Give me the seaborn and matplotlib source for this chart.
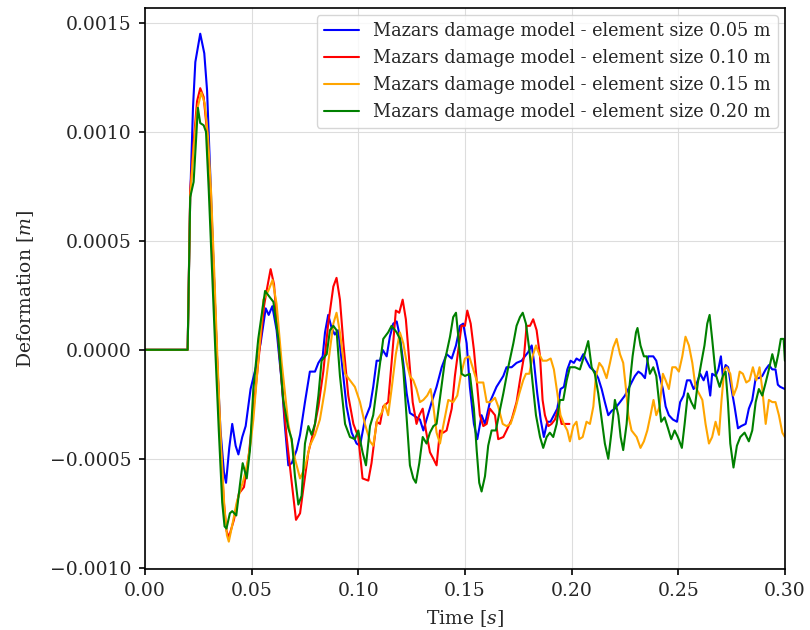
import seaborn as sns
import matplotlib.pyplot as plt
import pandas as pd

labels = ['Mazars damage model - element size 0.05 m',
          'Mazars damage model - element size 0.10 m',
          'Mazars damage model - element size 0.15 m',
          'Mazars damage model - element size 0.20 m']
colors = ['blue', 'red', 'orange', 'green']

# (time [s], deformation [m])
size_005 = [
    (0.0, 0), (0.0200, 0), (0.0212, 0.00070), (0.0225, 0.00111), (0.0236, 0.00132), (0.0259, 0.00145),
    (0.0278, 0.00136), (0.0291, 0.00119), (0.0307, 0.00078), (0.0322, 0.00037), (0.0338, -0.00004),
    (0.0354, -0.00037), (0.0370, -0.00056), (0.0380, -0.00061), (0.0395, -0.00045), (0.0409, -0.00034),
    (0.0425, -0.00044), (0.0438, -0.00048), (0.0456, -0.00040), (0.0472, -0.00035), (0.0495, -0.00018),
    (0.0520, -0.00008), (0.0542, 0.00003), (0.0566, 0.00019), (0.0580, 0.00016), (0.0597, 0.00020),
    (0.0617, 0.00009), (0.0641, -0.00015), (0.0656, -0.00035), (0.0672, -0.00053), (0.0688, -0.00052),
    (0.0711, -0.00046), (0.0727, -0.00039), (0.0750, -0.00024), (0.0773, -0.00010), (0.0797, -0.00010),
    (0.0813, -0.00006), (0.0833, -0.00003), (0.0844, 0.00008), (0.0859, 0.00016), (0.0875, 0.00010),
    (0.0890, 0.00007), (0.0906, 0.00009), (0.0922, -0.00005), (0.0945, -0.00026), (0.0969, -0.00038),
    (0.0992, -0.00043), (0.1008, -0.00044), (0.1031, -0.00032), (0.1055, -0.00026), (0.1070, -0.00017),
    (0.1086, -0.00005), (0.1102, -0.00005), (0.1114, 0.00000), (0.1133, -0.00003), (0.1148, 0.00006),
    (0.1164, 0.00012), (0.1180, 0.00013), (0.1195, 0.00006), (0.1211, -0.00006), (0.1227, -0.00020),
    (0.1242, -0.00029), (0.1258, -0.00030), (0.1273, -0.00031), (0.1289, -0.00032), (0.1305, -0.00037),
    (0.1320, -0.00032), (0.1344, -0.00024), (0.1367, -0.00017), (0.1391, -0.00008), (0.1414, -0.00002),
    (0.1438, -0.00004), (0.1458, 0.00002), (0.1477, 0.00011), (0.1492, 0.00012), (0.1508, 0.00003),
    (0.1523, -0.00017), (0.1542, -0.00034), (0.1558, -0.00041), (0.1578, -0.00030), (0.1594, -0.00034),
    (0.1617, -0.00024), (0.1648, -0.00017), (0.1680, -0.00012), (0.1695, -0.00008), (0.1719, -0.00008),
    (0.1742, -0.00006), (0.1766, -0.00005), (0.1781, -0.00003), (0.1797, -0.00001), (0.1813, 0.00002),
    (0.1823, -0.00005), (0.1839, -0.00020), (0.1855, -0.00032), (0.1870, -0.00040), (0.1886, -0.00033),
    (0.1901, -0.00033), (0.1917, -0.00030), (0.1933, -0.00027), (0.1948, -0.00018), (0.1964, -0.00017),
    (0.1980, -0.00009), (0.1995, -0.00005), (0.2011, -0.00006), (0.2023, -0.00004), (0.2039, -0.00005),
    (0.2055, -0.00002), (0.2070, -0.00005), (0.2086, -0.00008), (0.2109, -0.00010), (0.2125, -0.00013),
    (0.2141, -0.00018), (0.2156, -0.00024), (0.2172, -0.00030), (0.2188, -0.00028), (0.2203, -0.00027),
    (0.2227, -0.00024), (0.2250, -0.00021), (0.2266, -0.00018), (0.2281, -0.00015), (0.2297, -0.00012),
    (0.2313, -0.00010), (0.2328, -0.00011), (0.2344, -0.00013), (0.2359, -0.00003), (0.2383, -0.00003),
    (0.2397, -0.00005), (0.2413, -0.00012), (0.2428, -0.00018), (0.2441, -0.00026), (0.2456, -0.00030),
    (0.2475, -0.00032), (0.2494, -0.00033), (0.2509, -0.00024), (0.2525, -0.00021), (0.2541, -0.00014),
    (0.2556, -0.00014), (0.2572, -0.00018), (0.2588, -0.00015), (0.2603, -0.00011), (0.2619, -0.00014),
    (0.2634, -0.00010), (0.2650, -0.00021), (0.2659, -0.00011), (0.2675, -0.00012), (0.2688, -0.00009),
    (0.2700, -0.00003), (0.2709, -0.00012), (0.2722, -0.00007), (0.2734, -0.00008), (0.2748, -0.00017),
    (0.2764, -0.00026), (0.2780, -0.00036), (0.2795, -0.00035), (0.2816, -0.00034), (0.2831, -0.00027),
    (0.2847, -0.00023), (0.2863, -0.00013), (0.2878, -0.00013), (0.2894, -0.00012), (0.2910, -0.00009),
    (0.2925, -0.00007), (0.2941, -0.00009), (0.2956, -0.00009), (0.2967, -0.00016), (0.2978, -0.00017),
    (0.3000, -0.00018)]

size_010 = [
    (0.0, 0), (0.0200, 0), (0.0212, 0.00073), (0.0228, 0.00095), (0.0244, 0.00114), (0.0259, 0.00120),
    (0.0275, 0.00116), (0.0291, 0.00100), (0.0307, 0.00073), (0.0322, 0.00037), (0.0338, -0.00004),
    (0.0354, -0.00042), (0.0370, -0.00070), (0.0382, -0.00083), (0.0393, -0.00086), (0.0417, -0.00078),
    (0.0440, -0.00066), (0.0464, -0.00063), (0.0487, -0.00048), (0.0511, -0.00025), (0.0535, -0.00002),
    (0.0558, 0.00020), (0.0570, 0.00027), (0.0589, 0.00037), (0.0605, 0.00030), (0.0617, 0.00015),
    (0.0641, -0.00015), (0.0664, -0.00040), (0.0688, -0.00061), (0.0708, -0.00078), (0.0727, -0.00075),
    (0.0742, -0.00064), (0.0766, -0.00047), (0.0789, -0.00038), (0.0813, -0.00026), (0.0836, -0.00010),
    (0.0859, 0.00012), (0.0883, 0.00029), (0.0898, 0.00033), (0.0914, 0.00023), (0.0930, 0.00003),
    (0.0953, -0.00021), (0.0977, -0.00034), (0.1000, -0.00040), (0.1020, -0.00059), (0.1047, -0.00060),
    (0.1062, -0.00052), (0.1086, -0.00033), (0.1102, -0.00034), (0.1117, -0.00026), (0.1140, -0.00024),
    (0.1156, -0.00006), (0.1176, 0.00018), (0.1192, 0.00017), (0.1208, 0.00023), (0.1223, 0.00014),
    (0.1239, -0.00005), (0.1255, -0.00024), (0.1273, -0.00034), (0.1286, -0.00030), (0.1302, -0.00027),
    (0.1317, -0.00037), (0.1336, -0.00047), (0.1352, -0.00050), (0.1367, -0.00053), (0.1383, -0.00037),
    (0.1398, -0.00038), (0.1414, -0.00037), (0.1438, -0.00027), (0.1453, -0.00012), (0.1469, 0.00000),
    (0.1484, 0.00011), (0.1500, 0.00011), (0.1511, 0.00018), (0.1527, 0.00012), (0.1542, 0.00000),
    (0.1558, -0.00017), (0.1570, -0.00030), (0.1586, -0.00035), (0.1602, -0.00034), (0.1617, -0.00027),
    (0.1641, -0.00030), (0.1656, -0.00041), (0.1680, -0.00040), (0.1695, -0.00037), (0.1719, -0.00032),
    (0.1742, -0.00024), (0.1758, -0.00014), (0.1777, -0.00003), (0.1789, 0.00011), (0.1805, 0.00011),
    (0.1820, 0.00014), (0.1836, 0.00009), (0.1852, -0.00003), (0.1864, -0.00023), (0.1875, -0.00030),
    (0.1891, -0.00035), (0.1906, -0.00034), (0.1922, -0.00032), (0.1938, -0.00027), (0.1953, -0.00034),
    (0.1969, -0.00034), (0.1990, -0.00034)]

size_015 = [
    (0.0, 0), (0.0200, 0), (0.0212, 0.00070), (0.0228, 0.00092), (0.0244, 0.00110), (0.0264, 0.00118),
    (0.0280, 0.00113), (0.0295, 0.00098), (0.0310, 0.00072), (0.0325, 0.00035), (0.0340, -0.00005),
    (0.0356, -0.00043), (0.0372, -0.00072), (0.0384, -0.00085), (0.0393, -0.00088), (0.0410, -0.00080),
    (0.0430, -0.00070), (0.0461, -0.00060), (0.0480, -0.00052), (0.0495, -0.00043), (0.0508, -0.00032),
    (0.0531, -0.00005), (0.0555, 0.00023), (0.0578, 0.00027), (0.0598, 0.00032), (0.0617, 0.00021),
    (0.0641, -0.00006), (0.0672, -0.00034), (0.0703, -0.00050), (0.0727, -0.00059), (0.0750, -0.00054),
    (0.0773, -0.00044), (0.0797, -0.00039), (0.0820, -0.00032), (0.0844, -0.00018), (0.0867, 0.00000),
    (0.0883, 0.00012), (0.0898, 0.00017), (0.0914, 0.00008), (0.0938, -0.00011), (0.0961, -0.00014),
    (0.0984, -0.00017), (0.1008, -0.00024), (0.1031, -0.00034), (0.1055, -0.00042), (0.1070, -0.00044),
    (0.1089, -0.00032), (0.1109, -0.00029), (0.1125, -0.00025), (0.1140, -0.00030), (0.1156, -0.00018),
    (0.1176, -0.00002), (0.1195, 0.00008), (0.1211, 0.00003), (0.1227, -0.00006), (0.1242, -0.00012),
    (0.1258, -0.00014), (0.1273, -0.00018), (0.1289, -0.00024), (0.1305, -0.00023), (0.1323, -0.00021),
    (0.1339, -0.00018), (0.1352, -0.00026), (0.1367, -0.00038), (0.1383, -0.00043), (0.1398, -0.00035),
    (0.1422, -0.00023), (0.1445, -0.00024), (0.1464, -0.00021), (0.1480, -0.00012), (0.1500, -0.00004),
    (0.1520, -0.00003), (0.1539, -0.00009), (0.1558, -0.00015), (0.1586, -0.00015), (0.1602, -0.00024),
    (0.1620, -0.00024), (0.1641, -0.00022), (0.1656, -0.00026), (0.1677, -0.00034), (0.1695, -0.00035),
    (0.1714, -0.00034), (0.1734, -0.00028), (0.1755, -0.00020), (0.1773, -0.00014), (0.1786, -0.00011),
    (0.1802, -0.00011), (0.1817, -0.00003), (0.1833, 0.00002), (0.1848, -0.00002), (0.1864, -0.00005),
    (0.1883, -0.00005), (0.1902, -0.00004), (0.1917, -0.00009), (0.1933, -0.00020), (0.1948, -0.00030),
    (0.1964, -0.00034), (0.1980, -0.00037), (0.1992, -0.00042), (0.2008, -0.00035), (0.2023, -0.00033),
    (0.2036, -0.00041), (0.2052, -0.00040), (0.2070, -0.00033), (0.2086, -0.00034), (0.2102, -0.00026),
    (0.2114, -0.00012), (0.2130, -0.00006), (0.2145, -0.00008), (0.2164, -0.00013), (0.2180, -0.00006),
    (0.2195, 0.00001), (0.2211, 0.00005), (0.2227, -0.00002), (0.2242, -0.00006), (0.2255, -0.00018),
    (0.2266, -0.00030), (0.2281, -0.00037), (0.2305, -0.00040), (0.2323, -0.00045), (0.2339, -0.00042),
    (0.2355, -0.00037), (0.2370, -0.00030), (0.2384, -0.00023), (0.2397, -0.00030), (0.2413, -0.00026),
    (0.2428, -0.00011), (0.2441, -0.00014), (0.2456, -0.00018), (0.2472, -0.00008), (0.2488, -0.00008),
    (0.2503, -0.00010), (0.2519, -0.00003), (0.2534, 0.00006), (0.2550, 0.00002), (0.2566, -0.00006),
    (0.2581, -0.00017), (0.2597, -0.00020), (0.2613, -0.00023), (0.2628, -0.00034), (0.2644, -0.00043),
    (0.2659, -0.00040), (0.2675, -0.00033), (0.2691, -0.00039), (0.2703, -0.00023), (0.2716, -0.00009),
    (0.2728, -0.00008), (0.2744, -0.00011), (0.2759, -0.00021), (0.2775, -0.00017), (0.2788, -0.00010),
    (0.2803, -0.00011), (0.2819, -0.00015), (0.2834, -0.00014), (0.2850, -0.00008), (0.2866, -0.00014),
    (0.2881, -0.00008), (0.2894, -0.00018), (0.2910, -0.00034), (0.2925, -0.00023), (0.2941, -0.00024),
    (0.2956, -0.00024), (0.2972, -0.00030), (0.2988, -0.00038), (0.3000, -0.00040)]

size_020 = [
    (0.0, 0), (0.0200, 0), (0.0212, 0.00070), (0.0228, 0.00077), (0.0248, 0.00111), (0.0259, 0.00104),
    (0.0275, 0.00103), (0.0286, 0.00100), (0.0299, 0.00073), (0.0314, 0.00037), (0.0330, -0.00001),
    (0.0346, -0.00037), (0.0362, -0.00070), (0.0373, -0.00081), (0.0382, -0.00082), (0.0398, -0.00075),
    (0.0409, -0.00074), (0.0428, -0.00076), (0.0445, -0.00062), (0.0458, -0.00052), (0.0477, -0.00059),
    (0.0492, -0.00046), (0.0508, -0.00018), (0.0531, 0.00005), (0.0563, 0.00027), (0.0586, 0.00024),
    (0.0602, 0.00022), (0.0625, 0.00005), (0.0648, -0.00023), (0.0672, -0.00036), (0.0688, -0.00041),
    (0.0703, -0.00058), (0.0719, -0.00071), (0.0734, -0.00067), (0.0750, -0.00043), (0.0766, -0.00035),
    (0.0781, -0.00039), (0.0797, -0.00034), (0.0813, -0.00021), (0.0828, -0.00005), (0.0852, -0.00002),
    (0.0867, 0.00009), (0.0883, 0.00011), (0.0898, 0.00009), (0.0914, -0.00012), (0.0938, -0.00034),
    (0.0961, -0.00040), (0.0984, -0.00041), (0.1000, -0.00037), (0.1020, -0.00047), (0.1036, -0.00053),
    (0.1055, -0.00035), (0.1070, -0.00030), (0.1094, -0.00012), (0.1117, 0.00005), (0.1140, 0.00008),
    (0.1156, 0.00011), (0.1180, 0.00008), (0.1195, 0.00005), (0.1211, -0.00009), (0.1227, -0.00032),
    (0.1242, -0.00053), (0.1258, -0.00059), (0.1270, -0.00061), (0.1286, -0.00052), (0.1302, -0.00040),
    (0.1320, -0.00043), (0.1336, -0.00038), (0.1352, -0.00035), (0.1367, -0.00034), (0.1386, -0.00020),
    (0.1406, -0.00005), (0.1430, 0.00006), (0.1445, 0.00015), (0.1458, 0.00017), (0.1469, 0.00006),
    (0.1484, -0.00011), (0.1500, -0.00012), (0.1523, -0.00011), (0.1542, -0.00027), (0.1555, -0.00046),
    (0.1567, -0.00061), (0.1578, -0.00065), (0.1594, -0.00058), (0.1609, -0.00044), (0.1625, -0.00037),
    (0.1645, -0.00037), (0.1661, -0.00029), (0.1680, -0.00020), (0.1703, -0.00008), (0.1727, 0.00003),
    (0.1742, 0.00011), (0.1758, 0.00015), (0.1771, 0.00017), (0.1786, 0.00012), (0.1802, 0.00000),
    (0.1817, -0.00015), (0.1833, -0.00030), (0.1852, -0.00040), (0.1867, -0.00045), (0.1883, -0.00040),
    (0.1898, -0.00038), (0.1914, -0.00040), (0.1930, -0.00034), (0.1945, -0.00023), (0.1961, -0.00023),
    (0.1977, -0.00014), (0.1992, -0.00008), (0.2016, -0.00008), (0.2039, -0.00009), (0.2058, -0.00003),
    (0.2078, 0.00004), (0.2094, -0.00008), (0.2109, -0.00011), (0.2125, -0.00020), (0.2141, -0.00032),
    (0.2156, -0.00043), (0.2172, -0.00050), (0.2188, -0.00037), (0.2203, -0.00023), (0.2219, -0.00030),
    (0.2230, -0.00040), (0.2242, -0.00046), (0.2258, -0.00034), (0.2270, -0.00018), (0.2286, -0.00003),
    (0.2302, 0.00008), (0.2309, 0.00010), (0.2323, 0.00002), (0.2339, -0.00003), (0.2352, -0.00003),
    (0.2367, -0.00011), (0.2383, -0.00008), (0.2397, -0.00012), (0.2409, -0.00023), (0.2420, -0.00033),
    (0.2436, -0.00031), (0.2452, -0.00036), (0.2467, -0.00041), (0.2483, -0.00037), (0.2498, -0.00040),
    (0.2517, -0.00045), (0.2530, -0.00034), (0.2545, -0.00020), (0.2561, -0.00024), (0.2577, -0.00027),
    (0.2592, -0.00015), (0.2608, -0.00006), (0.2623, 0.00002), (0.2636, 0.00012), (0.2647, 0.00016),
    (0.2659, 0.00005), (0.2675, -0.00011), (0.2694, -0.00017), (0.2709, -0.00012), (0.2722, -0.00010),
    (0.2733, -0.00024), (0.2744, -0.00043), (0.2759, -0.00054), (0.2775, -0.00044), (0.2791, -0.00040),
    (0.2811, -0.00038), (0.2831, -0.00042), (0.2847, -0.00037), (0.2863, -0.00024), (0.2878, -0.00018),
    (0.2894, -0.00021), (0.2910, -0.00015), (0.2925, -0.00009), (0.2941, -0.00002), (0.2956, -0.00008),
    (0.2969, -0.00002), (0.2981, 0.00005), (0.2994, 0.00005), (0.3000, -0.00005)]

series = [size_005, size_010, size_015, size_020]

frames = []
for lab, pts in zip(labels, series):
    d = pd.DataFrame(pts, columns=['time', 'deformation'])
    d['model'] = lab
    frames.append(d)
df = pd.concat(frames, ignore_index=True)

sns.set_style('ticks', {'axes.grid': True, 'grid.color': '#dddddd'})
plt.rcParams['font.family'] = ['DejaVu Serif']
plt.rcParams['mathtext.fontset'] = 'dejavuserif'

fig, ax = plt.subplots(figsize=(8.1, 6.3), dpi=100)
sns.lineplot(data=df, x='time', y='deformation', hue='model', hue_order=labels,
             palette=colors, linewidth=1.5, ax=ax, estimator=None, sort=False)

ax.set_xlim(0, 0.3)
ax.set_ylim(-0.001005, 0.001567)
ax.set_xlabel('Time [$s$]', fontsize=13.5, labelpad=6)
ax.set_ylabel('Deformation [$m$]', fontsize=13.5, labelpad=10)
ax.tick_params(labelsize=13.5, color='black', width=1.2, length=4.5, pad=5)
for s in ax.spines.values():
    s.set_color('black')
    s.set_linewidth(1.2)
ax.legend(loc='upper right', fontsize=12.7, title=None, borderaxespad=0.4)

fig.subplots_adjust(left=0.179, right=0.969, top=0.987, bottom=0.097)
fig.savefig('out.png', dpi=100)
